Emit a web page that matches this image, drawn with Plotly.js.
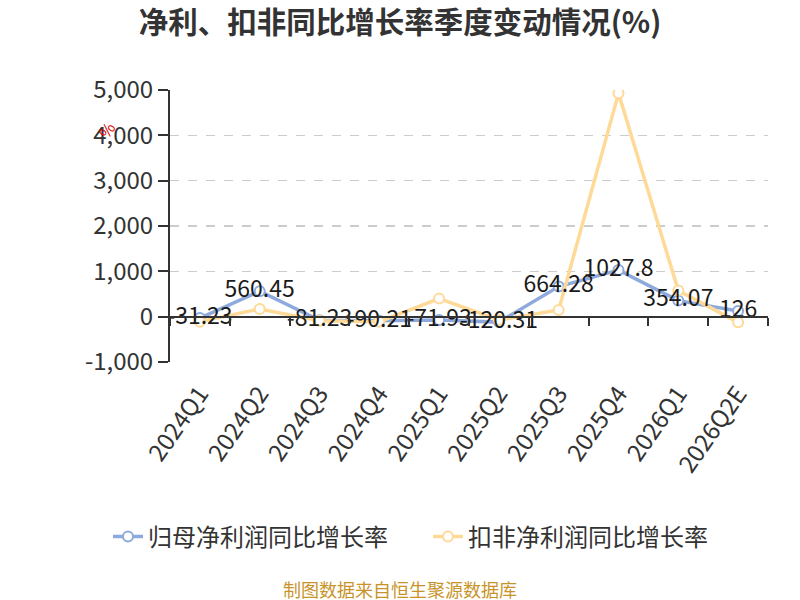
<!DOCTYPE html>
<html>
<head>
<meta charset="utf-8">
<script src="https://cdn.plot.ly/plotly-3.0.1.min.js"></script>
<style>html,body{margin:0;padding:0;background:#fff;}#chart{width:800px;height:600px;}</style>
</head>
<body>
<div id="chart"></div>
<script>
var categories = ["2024Q1","2024Q2","2024Q3","2024Q4","2025Q1","2025Q2","2025Q3","2025Q4","2026Q1","2026Q2E"];
var netProfitYoY = [-31.23, 560.45, -81.23, -90.21, -71.93, -120.31, 664.28, 1027.8, 354.07, 126];
var deductedYoY = [-110, 170, -88, -110, 398, -74, 147, 4926, 575, -125];
var seriesNames = ["归母净利润同比增长率", "扣非净利润同比增长率"];
var yTicks = [-1000, 0, 1000, 2000, 3000, 4000, 5000];
var yTickLabels = ["-1,000", "0", "1,000", "2,000", "3,000", "4,000", "5,000"];

var FONT = "'Noto Sans CJK SC', 'Noto Sans', sans-serif";
var blue = "#8eaadc";
var yellow = "#ffd998";

var traces = [
  {
    x: categories, y: netProfitYoY, name: seriesNames[0],
    type: "scatter", mode: "lines+markers", xaxis: "x", yaxis: "y",
    line: {color: blue, width: 3.5},
    marker: {symbol: "circle", size: 10, color: "#ffffff", line: {color: blue, width: 2}},
    hoverinfo: "skip"
  },
  {
    x: categories, y: deductedYoY, name: seriesNames[1],
    type: "scatter", mode: "lines+markers", xaxis: "x2", yaxis: "y",
    line: {color: yellow, width: 3.5},
    marker: {symbol: "circle", size: 10, color: "#ffffff", line: {color: yellow, width: 2}},
    hoverinfo: "skip"
  },
  {
    x: categories, y: netProfitYoY, text: netProfitYoY.map(String),
    type: "scatter", mode: "text", xaxis: "x2", yaxis: "y",
    textposition: "middle center",
    textfont: {family: FONT, size: 23, color: "#1a1a1a"},
    showlegend: false, hoverinfo: "skip"
  }
];

var layout = {
  width: 800, height: 600,
  margin: {l: 170, r: 32, t: 90, b: 238},
  paper_bgcolor: "#fff", plot_bgcolor: "#fff",
  font: {family: FONT, color: "#333"},
  title: {
    text: "净利、扣非同比增长率季度变动情况(%)",
    font: {family: FONT, size: 29.5, color: "#333", weight: "bold"},
    x: 0.5, xanchor: "center", y: 0.963, yanchor: "middle", yref: "container"
  },
  showlegend: true,
  legend: {
    orientation: "h", xref: "paper", x: (108-170)/598, xanchor: "left",
    yref: "paper", y: (362-537)/272, yanchor: "middle",
    entrywidth: 275, entrywidthmode: "pixels",
    font: {family: FONT, size: 24, color: "#333"}
  },
  xaxis: {
    type: "category", range: [-0.5, 9.5],
    anchor: "free", position: 1/6,
    showline: true, linecolor: "#333", linewidth: 2,
    ticks: "outside", tickson: "boundaries", ticklen: 8, tickcolor: "#333", tickwidth: 2,
    showticklabels: false, showgrid: false, zeroline: false, fixedrange: true
  },
  xaxis2: {
    type: "category", range: [-0.5, 9.5], overlaying: "x", anchor: "y", side: "bottom",
    showline: false, ticks: "", showgrid: false, zeroline: false,
    tickangle: -55, ticklabelstandoff: 12,
    tickfont: {family: FONT, size: 24, color: "#333"},
    fixedrange: true
  },
  yaxis: {
    range: [-1000, 5000], tickvals: yTicks, ticktext: yTickLabels,
    showline: true, linecolor: "#333", linewidth: 2,
    ticks: "outside", ticklen: 10, tickcolor: "#333", tickwidth: 2,
    showgrid: true, gridcolor: "#cccccc", griddash: "dash", gridwidth: 1.5,
    zeroline: false,
    tickfont: {family: FONT, size: 24, color: "#333"},
    fixedrange: true
  },
  annotations: [
    {
      text: "%", xref: "paper", yref: "paper", x: (106-170)/598, y: (362-130)/272,
      xanchor: "center", yanchor: "middle",
      showarrow: false, textangle: -55, font: {family: FONT, size: 16, color: "#e00000"}
    },
    {
      text: "制图数据来自恒生聚源数据库", xref: "paper", yref: "paper",
      x: (400-170)/598, xanchor: "center", y: (362-589)/272, yanchor: "middle",
      showarrow: false, font: {family: FONT, size: 18, color: "#c8942a"}
    }
  ]
};

Plotly.newPlot("chart", traces, layout, {displayModeBar: false, staticPlot: true});
</script>
</body>
</html>
